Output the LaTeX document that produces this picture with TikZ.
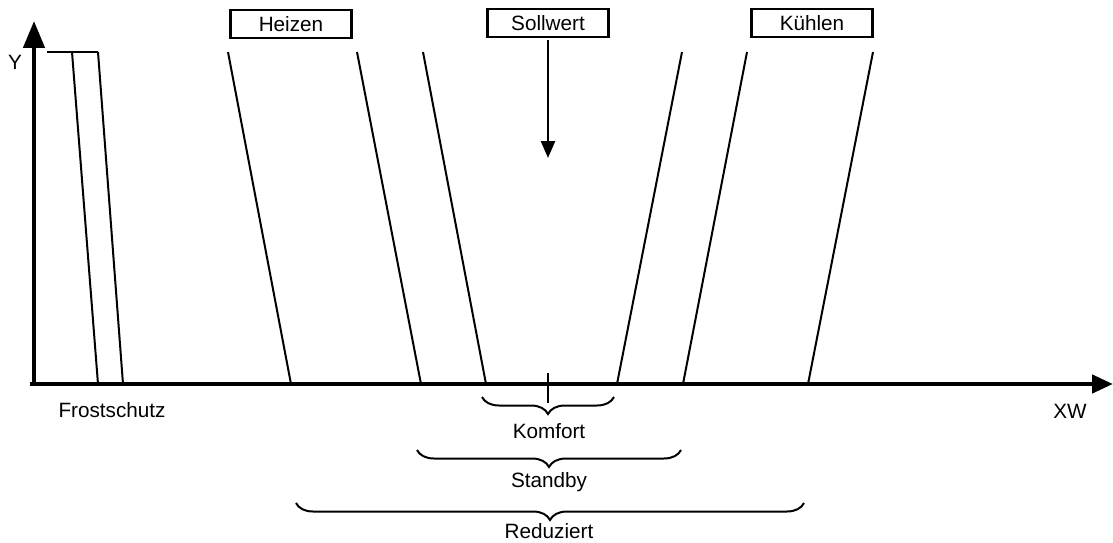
\documentclass[tikz,border=0pt]{standalone}
\usepackage{fontspec}
\setmainfont{Liberation Sans}
\usetikzlibrary{arrows.meta,decorations.pathreplacing}
\begin{document}
\begin{tikzpicture}[x=1pt,y=-1pt,
  lbl/.style={font=\fontsize{20.7}{24}\selectfont, inner sep=0pt},
  modebox/.style={draw, line width=2.6pt, minimum width=121pt, minimum height=28pt, inner sep=0pt, font=\fontsize{20.7}{24}\selectfont},
  axis/.style={line width=4.5pt},
  ramp/.style={line width=2pt},
  bracestyle/.style={line width=2pt, decorate, decoration={brace, mirror, amplitude=17pt}}]
\useasboundingbox (0,0) rectangle (1113,543);
% axes
\coordinate (o) at (34,386);
\coordinate (ytip) at (34,21);
\coordinate (xo) at (30,384);
\coordinate (xtip) at (1113,384);
\draw[axis, -{Triangle[length=27pt,width=21pt]}] (o) -- (ytip);
\draw[axis, -{Triangle[length=21pt,width=18pt]}] (xo) -- (xtip);
\node[lbl] (ylab) at (15,62) {Y};
\node[lbl] (xwlab) at (1070,411) {XW};
% Frostschutz
\draw[ramp] (47,52) -- (98,52);
\draw[ramp] (72,52) -- (98,384);
\draw[ramp] (98,52) -- (123,384);
\node[lbl] (frost) at (112,410) {Frostschutz};
% heating ramps
\draw[ramp] (228,52) -- (291,384);
\draw[ramp] (357,52) -- (421,384);
\draw[ramp] (423,52) -- (486,384);
% cooling ramps
\draw[ramp] (682,52) -- (617,384);
\draw[ramp] (747,52) -- (683,384);
\draw[ramp] (873,52) -- (808,384);
% boxes
\node[modebox] (heizen) at (291,24) {Heizen};
\node[modebox] (sollwert) at (548,23) {Sollwert};
\node[modebox] (kuehlen) at (812,23) {Kühlen};
% setpoint arrow
\coordinate (spend) at (548,158);
\draw[line width=2.6pt, -{Triangle[length=17pt,width=14pt]}] (sollwert.south) ++(0,2) -- (spend);
% tick
\coordinate (t1) at (548,373);
\coordinate (t2) at (548,403);
\draw[line width=2pt] (t1) -- (t2);
% braces
\coordinate (k1) at (482,397);
\coordinate (k2) at (614,397);
\draw[bracestyle] (k1) -- (k2);
\node[lbl] (komfort) at (549,431) {Komfort};
\coordinate (s1) at (417,450);
\coordinate (s2) at (681,450);
\draw[bracestyle] (s1) -- (s2);
\node[lbl] (standby) at (549,482) {Standby};
\coordinate (r1) at (296,503);
\coordinate (r2) at (804,503);
\draw[bracestyle] (r1) -- (r2);
\node[lbl] (reduziert) at (549,531) {Reduziert};
\end{tikzpicture}
\end{document}
